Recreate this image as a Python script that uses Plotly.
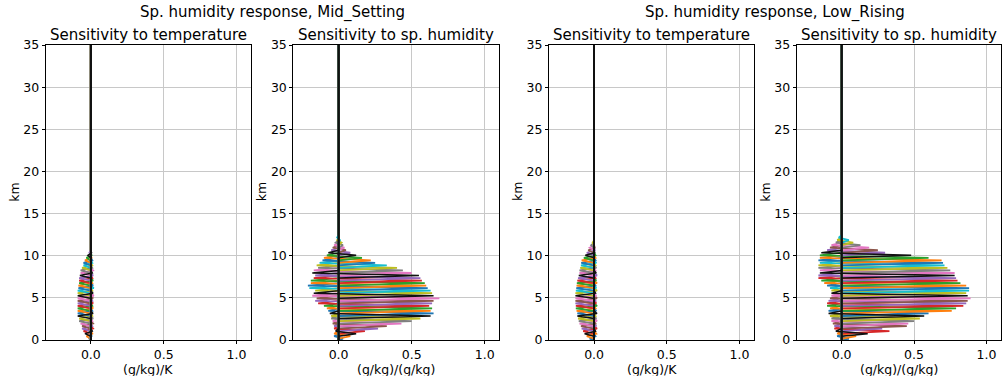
import plotly.graph_objects as go

# ---------------- data ----------------
heights_km = [0.15, 0.45, 0.75, 1.05, 1.35, 1.65, 1.95, 2.25, 2.55, 2.85,
              3.15, 3.45, 3.75, 4.05, 4.35, 4.65, 4.95, 5.25, 5.55, 5.85,
              6.15, 6.45, 6.75, 7.05, 7.35, 7.65, 7.95, 8.25, 8.55, 8.85,
              9.15, 9.45, 9.75, 10.05, 10.35, 10.65, 10.95, 11.25, 11.55, 11.85,
              12.15, 12.45]
top_km = 35.0

# Mid_Setting, sensitivity to temperature: response at own level / next level
mid_t_own = [-0.01, -0.03, -0.04, -0.05, -0.06, -0.06, -0.07, -0.08, -0.08, -0.09,
             -0.09, -0.09, -0.09, -0.09, -0.09, -0.09, -0.09, -0.09, -0.09, -0.09,
             -0.085, -0.085, -0.08, -0.08, -0.08, -0.075, -0.07, -0.07, -0.06, -0.05,
             -0.05, -0.04, -0.03, -0.02, -0.01, -0.005, 0.0, 0.0, 0.0, 0.0]
mid_t_next = [0.005, 0.01, 0.01, 0.015, 0.01, 0.015, 0.01, 0.015, 0.01, 0.015,
              0.01, 0.015, 0.01, 0.015, 0.01, 0.015, 0.02, 0.015, 0.01, 0.02,
              0.015, 0.01, 0.015, 0.01, 0.015, 0.01, 0.015, 0.01, 0.01, 0.01,
              0.01, 0.005, 0.005, 0.005, 0.0, 0.0, 0.0, 0.0, 0.0, 0.0]

# Mid_Setting, sensitivity to sp. humidity
mid_q_own = [0.03, 0.08, 0.12, 0.18, 0.27, 0.33, 0.43, 0.50, 0.56, 0.63,
             0.65, 0.63, 0.64, 0.62, 0.64, 0.65, 0.69, 0.65, 0.64, 0.63,
             0.61, 0.60, 0.59, 0.57, 0.56, 0.55, 0.50, 0.44, 0.40, 0.33,
             0.25, 0.22, 0.16, 0.12, 0.08, 0.05, 0.04, 0.03, 0.02, 0.01]
mid_q_next = [-0.03, -0.03, -0.02, -0.03, -0.03, -0.04, -0.04, -0.05, -0.05, -0.06,
              -0.07, -0.08, -0.10, -0.14, -0.16, -0.15, -0.18, -0.17, -0.16, -0.20,
              -0.21, -0.19, -0.19, -0.17, -0.16, -0.18, -0.17, -0.14, -0.15, -0.13,
              -0.11, -0.10, -0.08, -0.07, -0.05, -0.04, -0.03, -0.02, -0.01, -0.01]

# Low_Rising, sensitivity to temperature
low_t_own = [-0.03, -0.05, -0.065, -0.075, -0.085, -0.09, -0.10, -0.105, -0.11, -0.115,
             -0.115, -0.12, -0.125, -0.125, -0.128, -0.128, -0.128, -0.128, -0.128, -0.125,
             -0.122, -0.12, -0.118, -0.115, -0.11, -0.105, -0.10, -0.10, -0.095, -0.09,
             -0.088, -0.085, -0.07, -0.06, -0.05, -0.04, -0.03, -0.02, -0.01, -0.005]
low_t_next = [0.01, 0.015, 0.01, 0.02, 0.015, 0.01, 0.02, 0.015, 0.01, 0.02,
              0.015, 0.01, 0.02, 0.015, 0.01, 0.02, 0.015, 0.01, 0.02, 0.015,
              0.01, 0.02, 0.015, 0.01, 0.02, 0.015, 0.01, 0.015, 0.01, 0.015,
              0.01, 0.01, 0.01, 0.005, 0.005, 0.005, 0.0, 0.0, 0.0, 0.0]

# Low_Rising, sensitivity to sp. humidity
low_q_own = [0.05, 0.10, 0.18, 0.33, 0.28, 0.45, 0.46, 0.50, 0.54, 0.57,
             0.60, 0.76, 0.79, 0.84, 0.86, 0.87, 0.89, 0.87, 0.86, 0.88,
             0.88, 0.86, 0.82, 0.80, 0.79, 0.78, 0.78, 0.75, 0.73, 0.71,
             0.70, 0.69, 0.60, 0.48, 0.30, 0.25, 0.19, 0.13, 0.08, 0.05]
low_q_next = [-0.03, -0.03, -0.04, -0.05, -0.05, -0.06, -0.07, -0.07, -0.08, -0.09,
              -0.09, -0.08, -0.10, -0.10, -0.09, -0.08, -0.07, -0.07, -0.07, -0.08,
              -0.10, -0.12, -0.14, -0.16, -0.16, -0.15, -0.15, -0.16, -0.16, -0.15,
              -0.16, -0.15, -0.15, -0.14, -0.10, -0.08, -0.07, -0.04, -0.03, -0.02]

x_ticks = [0.0, 0.5, 1.0]
y_ticks = [0, 5, 10, 15, 20, 25, 30, 35]
suptitles = ["Sp. humidity response, Mid_Setting", "Sp. humidity response, Low_Rising"]
panel_titles = ["Sensitivity to temperature", "Sensitivity to sp. humidity",
                "Sensitivity to temperature", "Sensitivity to sp. humidity"]
x_labels = ["(g/kg)/K", "(g/kg)/(g/kg)", "(g/kg)/K", "(g/kg)/(g/kg)"]
y_label = "km"

# ---------------- styling ----------------
W, H = 1003, 376
cycle = ["#1f77b4", "#ff7f0e", "#2ca02c", "#d62728", "#9467bd",
         "#8c564b", "#e377c2", "#7f7f7f", "#bcbd22", "#17becf"]
black_idx = [2, 9, 17, 25, 33]
panels = [(mid_t_own, mid_t_next), (mid_q_own, mid_q_next),
          (low_t_own, low_t_next), (low_q_own, low_q_next)]
dom_px = [(45.7, 251.0), (293.3, 499.3), (549.0, 754.0), (796.7, 1001.0)]
y_top_px, y_bot_px = 45.0, 340.0
FONT = "DejaVu Sans"

fig = go.Figure()

def profile(own, nxt, k):
    n = len(heights_km)
    xs = [0.0] * n
    xs[k] = own[k]
    xs[k + 1] = nxt[k]
    return [0.0] + xs + [0.0], [0.0] + heights_km + [top_km]

for p, (own, nxt) in enumerate(panels):
    ax = "" if p == 0 else str(p + 1)
    order = [k for k in range(len(own)) if k not in black_idx] + black_idx
    for k in order:
        xs, ys = profile(own, nxt, k)
        is_black = k in black_idx
        col = "#111111" if is_black else cycle[k % 10]
        fig.add_trace(go.Scatter(x=xs, y=ys, mode="lines",
                                 line=dict(color=col, width=1.5 if is_black else 1.8),
                                 xaxis="x" + ax, yaxis="y" + ax,
                                 showlegend=False, hoverinfo="skip"))

layout = dict(width=W, height=H, margin=dict(l=0, r=0, t=0, b=0, autoexpand=False),
              paper_bgcolor="white", plot_bgcolor="white",
              font=dict(family=FONT, size=12.5, color="black"),
              showlegend=False)
axis_common = dict(showgrid=True, gridcolor="#c8c8c8", gridwidth=1, automargin=False,
                   zeroline=False, showline=True, linecolor="black", linewidth=1,
                   mirror=True, ticks="outside", ticklen=3, tickcolor="black",
                   tickwidth=1, tickfont=dict(family=FONT, size=12.5, color="black"))
for p in range(4):
    ax = "" if p == 0 else str(p + 1)
    x0, x1 = dom_px[p]
    layout["xaxis" + ax] = dict(axis_common, domain=[x0 / W, x1 / W],
                                range=[-0.31, 1.1], tickvals=x_ticks,
                                ticktext=[f"{v:.1f}" for v in x_ticks],
                                anchor="y" + ax)
    layout["yaxis" + ax] = dict(axis_common,
                                domain=[1 - y_bot_px / H, 1 - y_top_px / H],
                                range=[0, 35], tickvals=y_ticks,
                                anchor="x" + ax)
fig.update_layout(**layout)

ann = []
for p in range(4):
    x0, x1 = dom_px[p]
    cx = (x0 + x1) / 2 / W
    ann.append(dict(text=panel_titles[p], x=cx, y=1 - 35 / H, xref="paper", yref="paper",
                    showarrow=False, xanchor="center", yanchor="middle",
                    font=dict(family=FONT, size=15, color="black")))
    ann.append(dict(text=x_labels[p], x=cx, y=1 - 369 / H, xref="paper", yref="paper",
                    showarrow=False, xanchor="center", yanchor="middle",
                    font=dict(family=FONT, size=12.5, color="black")))
    ann.append(dict(text=y_label, x=(x0 - 31) / W, y=1 - 192 / H, xref="paper", yref="paper",
                    showarrow=False, xanchor="center", yanchor="middle", textangle=-90,
                    font=dict(family=FONT, size=12.5, color="black")))
for i, t in enumerate(suptitles):
    cx = (dom_px[2 * i][0] + dom_px[2 * i + 1][1]) / 2 / W
    ann.append(dict(text=t, x=cx, y=1 - 13 / H, xref="paper", yref="paper",
                    showarrow=False, xanchor="center", yanchor="middle",
                    font=dict(family=FONT, size=15, color="black")))
fig.update_layout(annotations=ann)

fig.write_html("out.html", config={"displayModeBar": False},
               post_script="document.body.style.margin='0px';")
